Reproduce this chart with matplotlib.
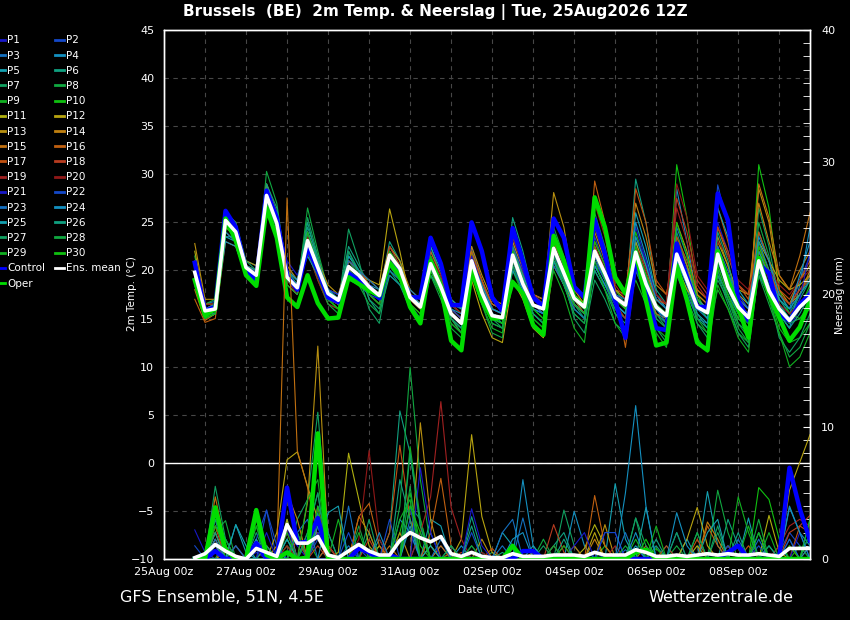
import numpy as np
import pandas as pd
import matplotlib
matplotlib.use("Agg")
import matplotlib.pyplot as plt
import matplotlib.dates as mdates
from matplotlib.ticker import MultipleLocator

# 6-hourly steps, 25Aug 18z .. 09Sep 18z
times = pd.date_range("2026-08-25 18:00", periods=61, freq="6h")
tick_days = pd.date_range("2026-08-25", periods=8, freq="2D")
tick_labels = ["25Aug 00z", "27Aug 00z", "29Aug 00z", "31Aug 00z",
               "02Sep 00z", "04Sep 00z", "06Sep 00z", "08Sep 00z"]

member_names = ["P%d" % i for i in range(1, 31)]
member_colors = ["#1818c8", "#1448c8", "#1470c0", "#1490c0", "#14a0b0",
                 "#10a080", "#10a060", "#10a840", "#10b020", "#10c010",
                 "#b0b010", "#b8a410", "#b89010", "#c08010", "#c07010",
                 "#c06010", "#c05010", "#b83c20", "#a02020", "#901818",
                 "#1818c8", "#1448c8", "#1470c0", "#1490c0", "#14a0b0",
                 "#10a080", "#10a060", "#10a840", "#10b020", "#10c010"]

# 2m temperature (C) per member
temp_members = [
    [20.5, 16.0,16.5,26.0,24.5, 20.0,19.5,28.5,25.5, 19.8,18.5,23.5,20.5, 17.8,17.0,20.0,19.0, 18.5,17.5,22.0,20.5, 17.5,16.5,21.5,19.0, 16.0,15.0,22.5,19.0, 16.0,15.5,23.0,20.0, 17.0,16.5,24.0,21.0, 17.5,16.5,20.5,18.5, 16.0,15.0,24.5,21.0, 17.5,16.0,22.5,19.5, 16.5,15.5,25.0,22.0, 17.5,16.0,19.5,17.5, 15.5,14.0,16.0,17.5],
    [19.5, 15.5,16.0,24.5,23.5, 20.5,19.8,27.0,24.5, 19.5,18.5,22.5,20.0, 17.5,16.5,21.0,20.0, 18.0,17.0,21.0,20.0, 17.0,16.0,22.0,19.5, 16.5,15.5,20.0,17.5, 15.0,14.5,21.0,18.5, 16.0,15.5,21.5,19.0, 16.5,15.5,23.5,20.5, 17.5,16.5,20.0,17.5, 15.5,14.5,23.0,20.5, 17.0,16.0,21.5,18.5, 16.0,15.0,23.0,20.0, 17.0,15.5,19.0,21.5],
    [21.0, 16.5,16.8,25.5,24.0, 20.0,19.0,28.0,25.0, 19.0,18.0,23.0,20.5, 18.0,17.0,19.5,19.0, 18.0,17.5,22.5,21.0, 17.5,16.5,20.5,18.0, 15.0,14.0,21.5,18.0, 15.5,15.0,22.0,19.0, 17.0,16.5,21.0,18.5, 16.0,15.0,22.5,20.0, 17.0,16.0,23.0,19.5, 16.0,15.0,20.0,17.5, 15.0,14.5,22.5,19.0, 16.5,15.5,21.5,18.5, 16.0,15.0,17.5,19.5],
    [19.0, 15.0,15.5,24.0,23.0, 20.0,19.5,27.5,24.5, 19.5,18.0,24.0,21.0, 18.0,17.0,21.5,20.0, 18.5,17.5,20.5,19.5, 17.0,16.0,21.0,18.5, 16.0,15.0,21.0,17.5, 14.5,14.0,20.5,18.0, 15.5,14.5,22.5,20.0, 17.0,15.5,21.0,19.0, 17.0,16.5,25.0,21.5, 17.5,16.5,28.5,23.0, 17.0,15.5,19.5,17.5, 15.5,14.5,20.0,17.5, 15.5,14.0,18.5,24.5],
    [20.0, 16.0,16.5,23.5,23.0, 21.0,20.5,26.5,24.0, 20.0,19.0,22.0,20.0, 17.5,17.0,20.5,19.5, 18.5,18.0,21.5,20.0, 17.5,16.5,20.0,18.0, 15.5,14.5,22.0,19.0, 16.5,16.0,24.0,21.0, 17.5,17.0,22.0,19.5, 16.5,15.5,20.5,18.5, 16.5,15.5,26.0,22.5, 17.5,16.0,21.5,18.5, 15.5,14.5,20.0,17.0, 15.0,14.0,24.0,21.0, 16.5,15.0,16.0,18.0],
    [20.5, 16.0,16.0,25.5,24.5, 20.5,19.5,28.5,25.0, 19.0,18.0,24.5,21.5, 18.0,17.0,22.5,20.5, 18.5,17.5,23.0,21.0, 17.5,16.5,21.5,19.0, 16.5,15.5,20.5,18.0, 16.0,15.5,25.5,22.0, 17.5,16.5,21.0,19.0, 16.5,15.5,22.0,19.5, 17.5,16.5,29.5,25.0, 18.0,16.5,20.5,18.0, 15.0,14.0,21.0,18.0, 15.5,14.5,22.0,19.5, 16.5,15.0,17.0,19.0],
    [19.0, 15.5,16.0,25.0,24.0, 20.5,19.5,29.0,26.0, 20.0,18.5,25.5,21.5, 17.5,16.5,24.3,21.0, 17.0,16.0,20.0,18.5, 16.5,15.5,22.5,19.5, 16.5,15.5,19.5,17.0, 15.0,14.5,21.0,18.0, 15.5,14.5,23.0,20.5, 16.5,15.0,20.0,18.0, 16.0,15.0,22.5,19.0, 15.5,14.0,24.0,20.5, 16.5,15.0,19.0,17.0, 14.5,13.5,26.5,22.5, 17.0,15.5,17.5,19.5],
    [21.5, 16.5,17.0,26.0,25.0, 20.0,19.0,30.3,27.0, 19.5,18.0,26.5,22.0, 18.0,17.0,21.0,19.5, 17.5,16.5,21.5,19.5, 16.0,15.0,20.0,17.5, 14.5,13.5,21.5,18.0, 15.0,14.5,22.5,19.5, 16.0,15.0,24.5,21.5, 17.5,16.5,26.0,22.5, 18.0,16.5,21.5,18.5, 15.5,14.5,23.5,20.5, 16.5,15.0,20.5,17.5, 14.5,13.0,25.0,21.5, 16.0,14.5,15.0,16.5],
    [18.5, 15.0,15.5,24.5,23.5, 19.5,19.0,27.0,24.5, 18.5,17.5,22.0,19.0, 16.5,16.0,19.0,18.5, 17.5,16.5,20.5,19.0, 16.5,15.5,19.5,17.5, 15.0,14.0,20.5,17.0, 14.5,14.0,20.0,17.5, 15.0,14.0,21.5,19.0, 16.0,15.0,25.0,21.5, 16.5,15.5,19.0,16.5, 14.0,13.0,22.0,18.5, 15.0,13.5,18.0,16.0, 13.5,12.5,20.5,17.5, 14.0,12.5,13.0,14.5],
    [19.5, 15.5,16.0,25.0,24.0, 20.0,19.0,27.5,25.0, 19.5,18.0,23.5,20.5, 17.5,16.5,20.0,19.0, 18.0,17.0,22.0,20.5, 17.0,16.0,21.0,18.5, 15.5,14.5,22.0,18.5, 15.5,15.0,21.5,18.5, 16.5,16.0,23.5,20.5, 17.0,16.0,21.5,19.0, 16.5,15.5,24.0,20.5, 16.5,15.0,31.0,25.5, 17.5,15.5,20.5,17.5, 15.0,14.0,31.0,26.5, 18.0,15.5,15.0,16.0],
    [22.0, 16.5,16.5,24.5,23.5, 20.5,20.0,28.0,25.0, 20.0,19.0,23.0,20.5, 18.0,17.5,20.0,19.0, 18.5,17.5,21.0,19.5, 17.5,16.5,20.5,18.5, 16.0,15.0,20.5,18.0, 16.0,15.5,23.5,20.5, 17.5,17.0,22.5,20.0, 17.5,16.5,21.5,19.5, 18.0,17.0,23.0,20.0, 17.0,16.5,22.0,20.0, 18.0,17.0,21.5,19.5, 18.0,17.5,23.0,21.0, 19.0,18.0,18.5,19.5],
    [20.0, 15.5,16.0,25.5,24.5, 20.5,19.5,28.5,25.5, 19.5,18.5,22.5,20.0, 17.5,17.0,20.5,19.5, 19.0,18.5,26.4,22.0, 17.0,16.5,20.0,18.0, 15.0,13.5,19.0,15.5, 13.0,12.5,19.0,17.0, 14.0,13.0,20.5,18.5, 16.5,15.5,22.5,20.0, 17.5,16.5,21.0,18.5, 16.0,15.5,20.5,18.0, 16.5,16.0,23.0,20.5, 17.5,16.5,22.0,19.5, 17.5,16.5,19.0,20.5],
    [22.8, 17.0,17.0,25.0,24.0, 21.0,20.5,29.0,26.0, 20.5,19.0,24.0,21.0, 18.5,17.5,21.0,20.0, 19.0,18.0,22.5,21.0, 18.0,17.0,23.0,20.5, 17.0,16.0,22.5,19.5, 17.0,16.5,23.0,20.0, 17.0,16.5,28.1,24.5, 18.0,16.5,24.5,21.5, 17.5,16.0,22.0,19.5, 17.0,16.0,25.0,22.0, 17.5,16.5,23.5,20.5, 17.0,16.0,28.5,25.0, 18.0,16.5,17.5,20.0],
    [20.5, 15.0,15.5,24.0,23.0, 20.0,19.5,27.0,24.5, 19.0,18.0,22.0,19.5, 17.0,16.5,19.5,18.5, 18.0,17.5,21.0,20.0, 17.5,17.0,20.5,18.5, 16.5,15.5,21.0,18.5, 16.5,16.0,22.5,19.5, 17.0,16.5,22.0,19.5, 17.0,16.5,24.0,21.0, 18.0,17.5,27.0,23.5, 18.5,17.5,23.0,20.5, 17.5,16.5,24.5,21.5, 18.5,17.5,27.0,23.0, 19.5,18.0,20.0,22.0],
    [18.0, 14.8,15.5,24.5,23.5, 20.0,19.0,28.0,25.5, 19.5,18.5,23.0,20.5, 17.5,17.0,21.0,20.0, 18.5,17.0,22.0,20.0, 17.0,16.0,22.0,19.5, 16.0,15.0,21.5,18.5, 15.5,15.0,21.0,18.5, 16.5,16.0,22.0,19.5, 16.5,15.5,21.5,19.0, 16.5,15.5,20.5,18.0, 15.5,15.0,22.5,20.0, 17.0,16.0,21.0,19.0, 16.5,15.5,29.0,25.5, 19.5,18.0,21.5,26.0],
    [17.0, 14.6,15.0,23.0,22.5, 19.5,19.0,26.0,23.5, 18.5,17.5,22.5,20.0, 17.0,16.5,20.5,19.5, 18.5,17.5,21.5,20.0, 17.0,16.0,21.5,19.0, 16.0,15.0,22.0,19.0, 16.5,16.0,22.5,19.5, 16.5,15.5,23.0,20.5, 17.0,15.5,29.3,25.0, 18.0,12.0,20.0,18.0, 16.5,15.5,22.0,19.5, 17.0,16.0,21.5,19.0, 17.0,16.0,22.5,20.0, 17.5,16.5,18.0,19.5],
    [19.5, 15.5,16.0,25.5,24.5, 20.5,19.5,28.5,25.5, 19.5,18.0,22.5,20.0, 17.5,16.5,20.0,19.0, 18.0,17.0,21.0,19.5, 17.0,16.0,20.5,18.5, 16.5,15.5,21.5,19.0, 16.0,15.5,22.0,20.0, 17.5,17.0,23.5,21.0, 18.0,17.0,23.0,20.5, 17.5,16.5,28.5,25.0, 19.0,17.5,23.5,21.0, 18.0,17.0,26.5,23.0, 18.5,17.0,24.0,21.0, 18.0,17.0,19.0,21.0],
    [19.0, 15.0,15.5,25.0,24.0, 20.0,19.0,26.5,24.0, 19.0,18.0,23.0,20.0, 17.5,16.5,21.0,20.0, 18.5,17.0,22.5,20.5, 17.0,16.5,21.0,19.0, 16.5,15.5,21.0,18.0, 15.5,15.0,21.5,19.5, 17.0,16.5,21.5,19.5, 16.5,15.5,22.5,20.0, 16.5,15.0,21.5,19.5, 17.0,16.5,27.5,24.0, 19.0,17.5,24.5,22.0, 18.5,17.5,21.0,19.5, 17.5,16.5,18.0,19.0],
    [20.0, 16.0,16.5,25.5,24.5, 20.5,19.5,28.0,25.0, 19.0,17.5,22.0,19.0, 16.5,16.0,20.0,19.0, 17.5,16.5,21.0,19.5, 16.5,15.5,21.0,19.0, 16.0,15.0,21.5,18.5, 16.0,15.5,23.5,20.5, 17.5,16.5,22.5,20.0, 17.0,16.0,27.0,23.5, 18.5,17.0,22.5,20.5, 17.5,16.5,26.5,23.0, 18.5,17.0,22.0,19.5, 17.0,16.0,22.0,19.0, 16.5,15.5,16.5,18.0],
    [21.0, 16.5,16.5,26.0,25.0, 20.5,20.0,27.5,24.5, 19.5,18.5,23.5,20.5, 18.0,17.5,20.5,19.5, 18.5,17.5,21.5,20.0, 17.5,16.5,21.5,19.5, 16.5,15.5,20.5,18.0, 16.0,15.5,22.0,19.5, 17.0,16.5,22.5,20.0, 17.0,16.0,22.0,20.5, 17.5,16.5,22.5,20.0, 17.5,16.5,29.0,25.5, 19.5,18.0,23.0,21.5, 19.0,18.0,21.5,20.0, 18.5,17.5,19.0,20.0],
    [20.5, 16.0,16.0,25.0,24.0, 20.0,19.5,28.0,25.5, 21.0,19.5,22.5,20.5, 18.0,17.5,20.0,19.0, 18.5,17.5,21.0,19.5, 17.0,16.5,20.5,18.0, 15.5,14.5,21.5,18.5, 16.0,15.5,22.5,20.0, 17.0,16.5,21.5,19.5, 16.5,15.5,22.0,20.0, 17.5,16.5,23.5,21.0, 17.0,16.0,22.5,19.5, 16.5,15.5,21.0,18.5, 16.0,15.0,20.5,18.0, 15.5,14.5,17.0,22.0],
    [19.5, 15.5,16.0,25.0,23.5, 20.0,19.5,27.5,25.0, 20.0,19.0,22.0,20.0, 18.0,17.5,19.5,18.5, 17.5,17.0,19.5,18.5, 17.0,16.5,21.0,19.0, 16.0,15.0,20.0,17.5, 15.5,15.0,20.5,18.0, 16.0,15.5,22.0,19.5, 17.0,16.0,21.0,19.0, 16.5,15.5,22.0,19.0, 16.5,15.5,21.0,18.5, 16.0,15.5,28.9,24.5, 17.5,16.0,20.0,18.0, 16.0,15.0,16.5,18.0],
    [20.0, 15.5,16.0,24.0,23.0, 20.0,19.5,27.0,24.5, 19.5,18.5,23.0,20.5, 18.0,17.0,21.0,20.0, 19.0,18.0,20.5,19.5, 18.0,17.0,20.0,18.5, 16.5,16.0,21.0,18.0, 16.0,15.5,21.5,19.0, 16.5,15.5,20.5,18.5, 16.0,15.0,21.5,19.0, 17.5,17.0,22.0,19.5, 16.0,14.5,24.5,21.5, 17.0,15.5,22.5,20.0, 16.5,15.5,19.5,17.5, 15.5,14.5,16.0,17.5],
    [19.5, 15.5,15.5,23.0,22.5, 19.5,18.5,26.0,23.5, 19.0,18.5,21.5,19.5, 17.5,17.0,20.0,19.0, 18.0,17.5,20.0,19.0, 17.0,16.5,19.5,18.0, 16.0,15.5,20.5,17.5, 15.5,15.0,20.0,18.0, 16.0,15.5,21.0,19.0, 16.5,15.5,20.5,18.5, 16.5,15.5,21.5,19.0, 16.0,15.0,21.0,18.5, 16.0,15.0,22.0,19.5, 17.0,16.0,23.5,21.0, 17.5,16.0,19.5,23.0],
    [20.0, 16.0,16.5,23.5,23.5, 20.5,20.0,27.5,25.0, 20.0,19.0,24.0,21.0, 18.0,17.0,21.5,20.0, 18.0,17.0,21.5,20.0, 17.5,16.5,22.5,20.0, 17.0,16.0,21.0,18.5, 16.0,15.5,22.0,19.5, 17.0,16.5,23.5,20.5, 17.0,16.0,22.0,19.5, 16.5,15.5,23.5,20.5, 17.0,16.0,22.5,20.0, 17.0,16.0,26.5,23.5, 18.0,16.5,22.0,19.5, 17.0,16.0,17.5,19.0],
    [19.0, 15.0,15.5,25.5,24.5, 20.0,19.5,29.0,26.5, 20.0,18.5,25.0,21.0, 17.5,16.5,22.0,20.0, 17.0,15.5,19.5,18.5, 16.0,15.0,21.0,18.5, 15.0,14.0,21.0,18.0, 15.5,14.5,22.5,19.5, 15.5,14.5,21.0,18.5, 15.5,14.5,20.0,18.0, 15.5,14.5,21.5,18.5, 15.0,14.0,22.5,19.5, 15.5,14.0,24.0,21.0, 16.0,14.5,23.0,20.0, 15.5,14.0,15.5,17.5],
    [20.0, 15.5,16.0,26.0,25.0, 21.0,20.0,28.5,25.5, 19.5,18.0,23.0,20.0, 17.0,16.0,22.0,19.5, 16.0,14.5,20.5,19.0, 16.5,15.0,20.5,18.0, 15.0,13.5,20.5,17.5, 15.0,14.0,21.0,18.5, 15.5,14.5,22.0,19.0, 15.0,13.5,19.0,17.0, 14.5,13.5,20.0,17.5, 14.0,12.5,22.0,19.0, 14.5,13.0,19.5,16.5, 13.5,12.0,21.0,17.5, 13.0,11.5,13.0,15.5],
    [19.5, 15.5,16.0,25.0,24.0, 20.0,19.0,27.0,24.5, 18.5,17.5,22.5,19.5, 16.5,15.5,19.5,18.5, 16.5,15.5,20.5,19.0, 16.0,15.0,19.5,17.0, 14.0,13.0,20.0,16.5, 13.5,13.0,20.5,17.5, 14.5,13.5,21.5,18.5, 15.5,14.5,22.0,19.0, 15.5,14.0,21.0,18.0, 15.0,14.0,19.5,17.0, 14.5,13.5,20.0,17.0, 14.0,12.5,19.5,16.5, 13.5,11.0,12.0,14.5],
    [19.5, 15.5,16.0,24.5,23.5, 19.5,18.5,27.5,25.0, 19.0,18.0,24.0,20.5, 17.0,16.0,20.5,19.0, 17.5,16.5,21.0,19.0, 16.0,15.0,20.0,17.5, 14.5,13.5,19.5,16.5, 14.0,13.5,21.5,18.5, 15.0,14.0,20.0,17.5, 14.0,12.5,21.0,18.0, 14.5,13.0,20.5,17.5, 13.5,12.0,20.0,17.0, 13.0,11.5,18.5,16.0, 13.0,11.5,20.0,17.0, 13.5,10.0,11.0,13.5],
    [18.5, 15.0,15.5,25.0,24.0, 20.0,19.0,28.0,25.5, 19.5,18.0,22.0,19.5, 17.0,16.0,20.0,19.0, 18.0,17.0,22.0,20.0, 16.5,15.5,21.5,19.0, 15.5,14.5,21.0,18.0, 15.0,14.5,22.0,19.0, 16.0,15.0,22.5,19.5, 16.5,15.5,23.0,20.5, 17.0,16.0,22.5,19.5, 16.5,15.5,25.0,21.5, 17.0,15.5,21.5,18.5, 15.5,14.5,22.5,19.5, 16.0,14.5,16.0,18.5],
]

# 6-hourly precipitation (mm) per member
rain_members = [
    [0, 0,1,0,0, 0,.5,0,0, 2,1,0,2.5, 0,0,0,0, 0,0,0,1.5, 2,0,0,1, 0,0,0,0, 0,0,.5,0, 0,0,0,0, 0,0,0,0, 0,0,.8,0, 0,0,0,0, 0,0,0,0, 0,0,0,0, 0,1.5,0,0],
    [1, 0,.5,0,0, 0,0,3.7,0, 1.5,0,0,1.5, 0,0,0,.8, 0,0,0,0, 0,2,0,0, 0,0,1,0, 0,0,0,0, 0,0,0,0, 0,0,.6,0, 0,0,0,0, 0,0,0,0, 0,0,0,0, 0,0,0,0, .5,2,1,0],
    [0, .5,2,0,1, 0,0,0,0, 3,0,1.5,2, 0,0,1,0, 0,0,0,0, 3,0,2,0, 0,0,0,0, 0,1,0,3.1, 0,0,0,0, 0,0,0,0, 0,.7,0,0, 0,0,0,0, 0,0,0,0, 1.5,0,0,0, 0,0,0,2],
    [0, 0,2.5,1,0, 0,0,0,.5, 0,0,0,4, 2,0,0,0, 0,0,0,3, 2,0,0,0, 0,1,0,0, 0,0,0,6, 1,0,0,0, 3.6,1,0,0, 0,0,2,0, 0,0,0,0, 0,0,0,0, 0,0,2,0, 0,3.9,2,1],
    [0, 0,1.5,0,2.6, .5,0,0,0, 0,2,0,0, 1,0,0,0, 0,1.5,0,0, 0,0,3,2.5, 0,0,0,0, 0,2,1,0, 0,0,0,0, 0,0,0,0, 5.7,1.5,0,3.9, 0,0,0,1.5, 0,5.1,1,0, 0,3.1,0,0, 1,0,0,0],
    [0, 0,3,0,0, 0,1,0,0, 0,0,2,5, 0,0,0,0, 0,0,2,11.2, 8,2.5,0,0, 0,0,3.2,.5, 0,0,0,0, 0,0,1,2, 0,0,0,0, 0,0,0,0, 1,0,0,0, 2,0,0,3, 1,0,0,0, 0,0,0,0],
    [0, 0,5.5,1.5,0, 0,2,0,0, 0,3,4.5,11.1, 2,0,0,0, 2,0,0,0, 4,3,0,0, 0,0,0,0, .5,0,0,0, 0,0,0,3.7, 1,0,0,0, 0,0,3.1,0, 0,1,0,0, 0,0,2.5,0, 0,0,0,0, 0,0,0,0],
    [0, 0,2,2.9,0, 0,0,1,0, 0,0,0,2, 0,0,0,2.5, 0,0,0,4, 14.5,6,1,0, 0,0,0,0, 0,0,0,0, 0,1.5,0,0, 0,0,0,0, 0,0,0,0, 0,0,1,0, 0,0,5.2,2, 0,0,0,1, 0,0,0,2],
    [0, .5,0,0,0, 0,1.5,0,0, 1,0,1.5,0, 0,3,0,0, 0,1,0,0, 8.5,3,0,0, 0,0,0,0, 0,0,.8,0, 0,0,0,0, 0,0,0,1, 0,0,1.5,0, 0,0,0,0, 0,0,0,0, 4.7,2,0,0, 0,0,1,0],
    [0, 0,3.5,0,0, 0,2.5,0,0, 1.5,0,0,3, 0,0,0,0, 0,0,0,2, 5,1,0,0, 0,0,0,0, 0,0,0,0, 0,0,1,0, 0,0,0,0, 0,0,0,0, .8,0,0,0, 0,0,0,0, 0,0,5.4,4.5, 1.5,0,0,3],
    [0, 0,0,.5,0, 0,0,0,0, 3,0,0,0, 0,.5,8,4.5, 1,0,0,0, 0,0,1,0, 0,0,0,0, 0,0,0,0, 0,0,0,0, 0,.8,2.6,1, 0,0,0,0, 0,0,0,0, 1,0,0,0, 0,0,0,3.3, .5,0,0,0],
    [0, 0,0,0,0, 0,0,0,2, 7.5,8.1,5.5,3, 0,0,0,0, 0,1,0,0, 0,0,0,0, 0,1.5,9.4,3.2, .5,0,0,0, 0,0,0,0, 0,0,2,0, 0,0,0,0, 0,0,0,1.5, 3.9,1,0,0, 0,0,0,0, 0,5.2,7.3,9.4],
    [0, 0,1,0,0, 0,0,0,0, 0,0,4.3,16.1, 1,0,0,0, 0,0,0,2, 0,10.3,3,0, 0,0,0,1.5, 0,0,0,0, 0,0,0,0, 0,0,0,2.6, 0,0,0,0, 0,0,0,0, 0,0,0,1, 0,0,0,0, 0,0,0,0],
    [0, 0,2,0,0, 0,0,0,1, 5,3,0,0, 0,0,0,3.2, 2,0,0,0, 0,0,0,1, 0,0,0,0, 0,0,0,0, .5,0,0,0, 0,0,1.5,0, 0,0,0,0, 0,0,0,0, 0,2.8,1.5,0, 0,0,0,0, 0,0,0,0],
    [0, 0,4.7,1,0, 0,0,0,.3, 27.3,8.2,5.4,1.5, 0,0,0,0, 0,0,1,0, 0,0,0,0, .5,0,0,0, 0,0,0,0, 0,0,0,0, 1,0,0,0, 0,0,0,1, 0,0,0,0, 0,0,0,0, 0,0,0,0, 0,1,0,0],
    [0, 0,1.5,0,0, 0,1,0,0, 0,0,0,0, 1,0,0,3.2, 4.2,1,0,0, 0,0,2,6.1, 1,0,0,0, 0,0,0,0, 0,0,0,0, 0,0,4.8,1, 0,0,0,0, 0,0,0,0, 0,2.5,1,0, 0,0,0,0, 0,0,0,0],
    [0, 0,2.5,0,0, 0,0,1,0, 0,0,0,2, 0,0,0,0, 0,0,2,8.6, 3,0,0,0, 0,0,0,0, .8,0,0,0, 0,0,0,1, 0,0,0,0, 0,0,0,0, 0,0,0,0, 1.5,0,0,0, 0,1,0,0, 0,0,2.5,2],
    [0, 0,0,1,0, 0,0,0,0, 0,1.5,0,1, 0,0,0,0, 1.5,0,0,0, 0,0,0,0, 0,.5,0,0, 0,0,0,0, 0,0,2.6,.5, 0,0,0,0, 0,0,0,0, 0,1,0,0, 0,0,0,0, 0,0,0,0, 0,2,2.5,3.3],
    [0, 0,0,0,1, 0,0,0,0, 1,0,0,3.9, 1,0,0,0, 0,0,0,0, 0,2,4.7,11.9, 3.9,1.5,0,0, 0,0,0,0, 0,0,0,0, 0,0,0,0, 1,0,0,0, 0,0,0,0, 0,0,0,0, 0,0,0,0, 1,2.5,3,2.5],
    [0, 0,1,0,0, 0,0,0,0, 2,0,0,0, 0,0,0,1.5, 8.2,1.5,0,0, 0,0,0,0, 0,0,0,.5, 0,0,0,0, 0,0,1,0, 0,0,0,0, 0,0,0,0, 0,0,0,0, 0,0,0,1, 0,0,0,0, 0,0,0,1],
    [2.2, .5,0,0,0, 0,0,2,0, 2.5,0,0,2, 0,0,0,0, 0,0,0,0, 0,6.9,2,0, 0,0,3.8,1, 0,0,0,0, 0,0,0,0, 1,2,0,2, 2,0,0,0, 0,0,0,0, 0,0,0,0, 0,0,0,0, 0,0,2,0],
    [0, 0,0,0,0, 0,1.5,3.7,1, 0,0,0,0, 0,0,2,0, 0,0,3,0, 4,0,0,0, 0,0,2,0, 0,0,0,0, 0,0,0,0, 0,0,0,2, 2,0,0,0, 0,0,0,0, 0,0,0,1, 0,0,1,0, 0,0,0,0],
    [0, 0,1.5,0,1, 0,0,0,0, 0,2,3,0, 0,0,4,0, 0,0,0,0, 0,0,0,1.5, 0,0,0,0, 0,2,3,0, 0,0,0,0, 0,0,0,0, 0,2,0,0, 0,0,2,0, 0,0,0,0, 0,0,1.5,0, 0,1.5,0,0],
    [0, 0,1,0,0, 0,1.5,0,0, 0,0,0,2.5, 0,0,0,0, 0,2,0,0, 0,0,0,0, 1,0,0,0, 0,0,1.5,2, 0,0,0,0, 0,0,0,0, 0,5,11.6,4, 0,0,3.5,1, 0,0,0,0, 0,0,0,0, 0,4,2,0],
    [0, 0,0,0,2.6, 1,0,0,0, 1.5,0,0,0, 3.5,4,0,0, 0,0,0,0, 2.5,0,1,0, 0,0,0,0, 0,0,0,0, 1,0,0,0, 0,0,0,0, 0,0,1,0, 0,0,0,0, 0,2,3,0, 0,0,0,0, 0,0,0,1],
    [0, 0,2,0,0, 0,0,1,0, 0,0,0,3.5, 0,0,0,0, 0,0,0,6, 3,0,0,0, 0,0,2.5,0, 0,.5,0,0, 0,0,0,1.5, 0,0,0,0, 0,0,0,0, 1.5,0,0,0, 0,0,0,0, 2,0,0,1, 0,0,0,0],
    [0, 0,3,1.5,0, 0,0,0,0, 0,0,2,5, 0,0,0,0, 3,0,0,0, 8,2.5,0,0, 0,0,0,0, 0,0,0,0, 0,1,0,0, 0,0,0,0, 0,0,3.1,1, 0,0,2,0, 0,0,2,0, 0,0,0,0, 0,0,0,0],
    [0, 0,0,1.5,0, 0,3,0,0, 0,2,0,3, 0,0,0,0, 0,0,0,0, 5.5,0,0,0, 1,0,0,0, 0,0,0,0, 0,0,1,0, 0,0,0,0, 0,1,0,0, 0,0,0,0, 2,0,0,0, 0,0,3,0, 0,0,0,3],
    [0, 0,4,0,0, 0,2.5,0,0, 2,0,4.5,6, 0,0,0,2, 0,0,0,3, 4.5,0,0,0, 0,0,1,0, 0,0,0,0, 0,0,0,1, 0,0,0,0, 0,0,0,0, 2.5,0,0,0, 0,0,0,0, 0,2.5,0,2, 0,0,0,0],
    [0, 0,2.5,1,0, 0,3,0,0, 0,0,0,4, 0,0,0,0, 0,0,0,0, 4,2,0,0, 0,0,0,0, 0,0,1,0, 0,0,0,0, 0,0,0,0, 0,0,0,1.5, 0,0,0,0, 0,0,0,0, 0,0,2,0, 0,1,0,0],
]

temp_control = [20.8, 15.8,16.2,26.2,24.5, 20.0,19.0,28.3,25.5, 19.5,18.0,22.4,20.0, 17.2,16.7,19.7,19.0, 18.3,17.1,20.8,19.7, 17.2,17.2,23.4,20.7, 16.4,16.4,25.0,22.0, 17.2,15.8,24.4,21.0, 17.2,16.2,25.4,23.4, 18.3,17.2,25.3,21.7, 16.9,13.0,21.0,17.6, 14.0,13.8,22.8,19.3, 16.2,16.2,28.0,25.2, 16.9,14.8,20.7,19.7, 15.5,14.8,16.5,17.5]
temp_mean = [19.8, 15.8,16.0,25.2,24.0, 20.3,19.5,27.8,24.9, 19.3,18.2,23.1,20.3, 17.6,16.9,20.4,19.5, 18.3,17.4,21.6,20.2, 17.2,16.2,20.7,18.3, 15.5,14.5,21.0,17.7, 15.3,15.1,21.6,18.6, 16.4,16.0,22.3,19.7, 17.1,16.2,22.0,19.7, 17.2,16.4,21.9,18.6, 16.2,15.3,21.7,19.0, 16.2,15.6,21.7,18.3, 16.2,15.1,21.0,17.9, 16.0,14.8,16.2,17.2]
temp_oper = [19.0, 15.3,16.0,25.4,23.1, 19.5,18.4,26.5,23.4, 17.2,16.2,19.5,16.6, 15.0,15.1,19.3,18.6, 17.9,17.4,20.8,19.5, 16.2,14.5,21.0,18.3, 12.7,11.7,20.0,16.9, 15.0,15.1,18.8,17.6, 14.3,13.3,23.6,21.0, 17.2,16.2,27.6,24.5, 19.3,17.6,21.9,16.9, 12.2,12.5,20.5,16.9, 12.5,11.7,22.0,19.0, 16.2,13.0,21.3,17.6, 15.1,12.7,14.1,16.9]

rain_control = [0, 0,.6,0,0, 0,1.2,0,0, 5.4,1.2,1.3,3.1, .2,0,0,.8, .5,0,.3,0, 0,0,0,0, 0,0,0,0, 0,0,0,.6, .6,0,0,0, 0,0,0,0, 0,0,0,0, 0,0,0,0, 0,0,0,.5, 1,0,0,0, .1,6.9,3.8,1.4]
rain_mean = [.1, .4,1.1,.6,.2, 0,.8,.5,.2, 2.6,1.2,1.2,1.7, .3,.1,.6,1.1, .6,.3,.3,1.4, 2.0,1.6,1.3,1.7, .4,.2,.5,.2, .1,.1,.4,.2, .2,.2,.3,.3, .3,.2,.5,.3, .3,.3,.7,.5, .2,.2,.3,.2, .3,.4,.3,.4, .3,.3,.4,.3, .2,.8,.8,.8]
rain_oper = [0, 0,3.9,.7,0, 0,3.7,.3,0, .5,0,.1,9.5, 0,0,0,0, 0,0,0,0, 0,0,0,0, 0,0,0,0, 0,0,1,0, 0,0,0,0, 0,0,0,0, 0,0,.5,.7, 0,0,0,0, 0,0,0,0, 0,0,0,0, 0,0,0,0]

bad = [(n, len(t), len(r)) for n, t, r in zip(member_names, temp_members, rain_members)
       if len(t) != 61 or len(r) != 61]
bad += [(n, len(s)) for n, s in [("tc", temp_control), ("tm", temp_mean), ("to", temp_oper),
                                  ("rc", rain_control), ("rm", rain_mean), ("ro", rain_oper)] if len(s) != 61]
assert not bad, bad

fig = plt.figure(figsize=(8.5, 6.2), dpi=100, facecolor="black")
ax = fig.add_axes([164 / 850, 61 / 620, 646 / 850, 529 / 620], facecolor="black")
ax2 = ax.twinx()

member_lines = []
for name, col, t, r in zip(member_names, member_colors, temp_members, rain_members):
    ln, = ax.plot(times, t, color=col, lw=0.8, label=name)
    ax2.plot(times, r, color=col, lw=0.8)
    member_lines.append(ln)

ctl_line, = ax.plot(times, temp_control, color="#0000ff", lw=3.2, label="Control")
ax2.plot(times, rain_control, color="#0000ff", lw=3.2)
opr_line, = ax.plot(times, temp_oper, color="#00dd00", lw=3.2, label="Oper")
ax2.plot(times, rain_oper, color="#00dd00", lw=3.2)
mean_line, = ax.plot(times, temp_mean, color="white", lw=2.6, label="Ens. mean")
ax2.plot(times, rain_mean, color="white", lw=2.6)

ax.axhline(0, color="white", lw=1, zorder=1.8)

ax.set_xlim(pd.Timestamp("2026-08-25 00:00"), pd.Timestamp("2026-09-09 18:00"))
ax.set_ylim(-10, 45)
ax2.set_ylim(0, 40)
ax.set_yticks(range(-10, 46, 5))
ax.set_xticks(tick_days)
ax.set_xticklabels(tick_labels)
ax.xaxis.set_minor_locator(mdates.DayLocator())
ax.grid(True, which="both", axis="x", color="#474747", ls=(0, (4, 4)), lw=0.8)
ax.grid(True, which="major", axis="y", color="#474747", ls=(0, (4, 4)), lw=0.8)

ax.tick_params(axis="x", which="both", length=0, colors="white", labelsize=8, pad=6)
ax.tick_params(axis="y", length=0, colors="white", labelsize=8, pad=7)
ax2.yaxis.set_major_locator(MultipleLocator(10))
ax2.yaxis.set_minor_locator(MultipleLocator(1))
ax2.tick_params(axis="y", which="both", direction="in", length=5, colors="white",
                labelsize=8, pad=8)
for a in (ax, ax2):
    for sp in a.spines.values():
        sp.set_color("white")
        sp.set_linewidth(1)

fig.text(132 / 850, 1 - 294 / 620, "2m Temp. (°C)", color="white", fontsize=7.5,
         rotation=90, ha="center", va="center")
fig.text(840 / 850, 1 - 295 / 620, "Neerslag (mm)", color="white", fontsize=7.5,
         rotation=90, ha="center", va="center")
fig.text(486 / 850, 1 - 589 / 620, "Date (UTC)", color="white", fontsize=7.5,
         ha="center", va="center")
fig.text(435 / 850, 1 - 12 / 620,
         "Brussels  (BE)  2m Temp. & Neerslag | Tue, 25Aug2026 12Z",
         color="white", fontsize=11, fontweight="bold", ha="center", va="center")
fig.text(120 / 850, 1 - 598 / 620, "GFS Ensemble, 51N, 4.5E", color="white",
         fontsize=11.5, ha="left", va="center")
fig.text(793 / 850, 1 - 598 / 620, "Wetterzentrale.de", color="white",
         fontsize=11.5, ha="right", va="center")

col1 = member_lines[0::2] + [ctl_line, opr_line]
col2 = member_lines[1::2] + [mean_line]
handles = col1 + col2
leg = fig.legend(handles, [h.get_label() for h in handles], loc="upper left",
                 bbox_to_anchor=(-0.004, 0.943), ncol=2, frameon=False,
                 fontsize=7.5, handlelength=0.8, handletextpad=0.2,
                 columnspacing=1.0, labelspacing=0.5, borderpad=0,
                 borderaxespad=0, labelcolor="white")
for h in leg.legend_handles:
    h.set_linewidth(2)

fig.savefig("out.png", dpi=100, facecolor="black")
